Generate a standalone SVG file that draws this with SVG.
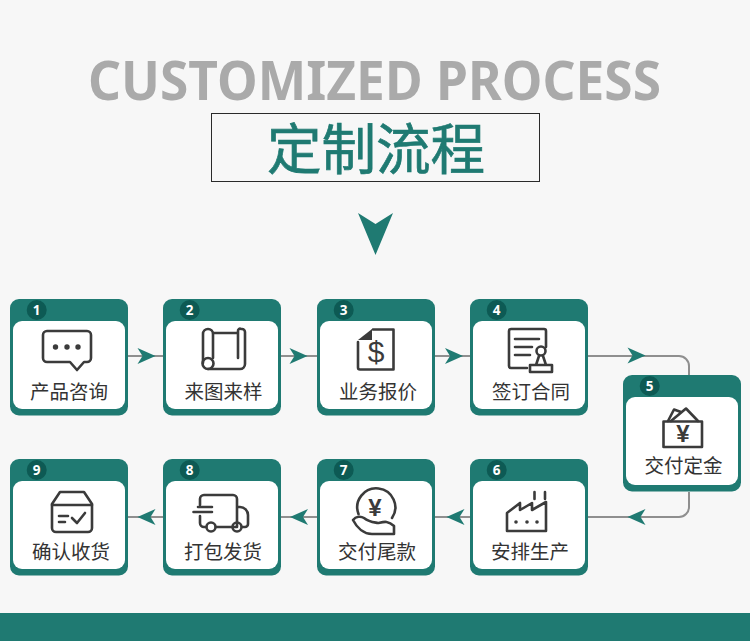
<svg xmlns="http://www.w3.org/2000/svg" width="750" height="641" viewBox="0 0 750 641">
<style>
.cjk{font-family:"Noto Sans CJK SC","Noto Sans",sans-serif}
.label{font-size:19.5px;fill:#333;text-anchor:middle;font-family:"Noto Sans CJK SC","Noto Sans",sans-serif}
.num{font-size:13.500px;font-weight:700;fill:#fff;text-anchor:middle;font-family:"Noto Sans","Liberation Sans",sans-serif}
.ic{fill:none;stroke:#3b3b3b;stroke-width:2.600;stroke-linecap:round;stroke-linejoin:round}
.dot{fill:#3b3b3b}
.sym{fill:#3b3b3b;text-anchor:middle;font-family:"Liberation Sans",sans-serif}
.wire{fill:none;stroke:#8f8f8f;stroke-width:2}
.head{fill:#1f7a72}
</style>
<defs>
<g id="card">
<rect width="118" height="116.500" rx="9" fill="#1f7a72"/>
<rect x="3" y="22" width="112" height="88" rx="9" fill="#fff"/>
<circle cx="26.700" cy="11" r="10" fill="#0d5a54"/>
</g>
<path id="arrow-r" d="M-18-8 L0 0 L-18 8 L-13 0Z"/>
<path id="arrow-l" d="M18-8 L0 0 L18 8 L13 0Z"/>
</defs>
<rect width="750" height="641" fill="#f7f7f7"/>
<rect y="613" width="750" height="28" fill="#1f7a72"/>

<g id="title">
<text x="88" y="100" font-family="Noto Sans,Liberation Sans,sans-serif" font-weight="700" font-size="53" fill="#aaaaaa" textLength="573" lengthAdjust="spacingAndGlyphs">CUSTOMIZED PROCESS</text>
<rect x="211.500" y="113.500" width="328" height="68" fill="none" stroke="#2a2a2a" stroke-width="1"/>
<text x="376" y="169" class="cjk" font-size="54.500" font-weight="400" fill="#1f7a72" stroke="#1f7a72" stroke-width="0.700" text-anchor="middle">定制流程</text>
<path d="M358 213 L375.500 224 L393 213 L375.500 255Z" fill="#1f7a72"/>
</g>

<!-- Connectors between the steps -->
<g id="connectors">
<path class="wire" d="M128 356H163M281 356H317M435 356H470"/>
<path class="wire" d="M588 356H679a10 10 0 0 1 10 10V375"/>
<path class="wire" d="M689 492V507a10 10 0 0 1 -10 10H588"/>
<path class="wire" d="M128 517H163M281 517H317M435 517H470"/>
<use href="#arrow-r" class="head" x="155.500" y="356"/>
<use href="#arrow-r" class="head" x="307.500" y="356"/>
<use href="#arrow-r" class="head" x="463" y="356"/>
<use href="#arrow-r" class="head" x="645.500" y="355.500"/>
<use href="#arrow-l" class="head" x="627.500" y="517"/>
<use href="#arrow-l" class="head" x="446.500" y="517"/>
<use href="#arrow-l" class="head" x="290" y="517"/>
<use href="#arrow-l" class="head" x="137.500" y="517"/>
</g>

<g id="step-1">
<use href="#card" x="10" y="299"/>
<text class="num" x="36.700" y="315">1</text>
<path class="ic" d="M47 331H87a4 4 0 0 1 4 4V358a4 4 0 0 1 -4 4H84L77 370L70 362H47a4 4 0 0 1 -4 -4V335a4 4 0 0 1 4 -4Z"/>
<circle class="dot" cx="55.500" cy="347" r="2.700"/><circle class="dot" cx="67" cy="347" r="2.700"/><circle class="dot" cx="78" cy="347" r="2.700"/>
<text class="label" x="69" y="398.500">产品咨询</text>
</g>

<g id="step-2">
<use href="#card" x="163" y="299"/>
<text class="num" x="189.700" y="315">2</text>
<path class="ic" d="M203 363V334a5 5 0 0 1 5 -5a5 5 0 0 1 5 5V358M213 333H238M238 333V358M238 333V331a2 2 0 0 1 3 -2h1a3 3 0 0 1 3 3V364a5 5 0 0 1 -5 5H208"/>
<circle class="ic" cx="208" cy="363.500" r="5.500"/>
<text class="label" x="223.500" y="398.500">来图来样</text>
</g>

<g id="step-3">
<use href="#card" x="317" y="299"/>
<text class="num" x="343.700" y="315">3</text>
<path class="ic" d="M373 329.500H393.500V369.500H360a2 2 0 0 1 -2 -2V342"/>
<path class="dot" d="M358 340L372 329V340Z"/>
<text class="sym" x="376" y="362" font-size="30">$</text>
<text class="label" x="378" y="398.500">业务报价</text>
</g>

<g id="step-4">
<use href="#card" x="470" y="299"/>
<text class="num" x="496.700" y="315">4</text>
<path class="ic" d="M546 347V331a2 2 0 0 0 -2 -2H511a2 2 0 0 0 -2 2V366a2 2 0 0 0 2 2H527"/>
<path class="ic" d="M515 339H539M515 347H532M515 355H530"/>
<circle class="ic" cx="541" cy="351" r="4.500"/>
<path class="ic" d="M539 356L536 365M543 356L546 365M530 365H552V372H530Z"/>
<text class="label" x="531" y="398.500">签订合同</text>
</g>

<g id="step-5">
<use href="#card" x="623" y="375"/>
<text class="num" x="649.700" y="391">5</text>
<path class="ic" d="M663.500 421.500H702V447H663.500Z"/>
<path class="ic" d="M668 421L674 409.500L681 412M671 421L686 408.500L698 421"/>
<text class="sym" x="683" y="442" font-size="24" font-weight="700">¥</text>
<text class="label" x="683.500" y="473">交付定金</text>
</g>

<g id="step-6">
<use href="#card" x="470" y="459"/>
<text class="num" x="496.700" y="475">6</text>
<path class="ic" d="M507 531V513L520 503V510L532 503V510L546 502V531Z"/>
<path class="ic" d="M534.500 492V499M545 492V499"/>
<circle class="dot" cx="516" cy="522" r="1.800"/><circle class="dot" cx="527" cy="522" r="1.800"/><circle class="dot" cx="537" cy="522" r="1.800"/>
<text class="label" x="530" y="558.500">安排生产</text>
</g>

<g id="step-7">
<use href="#card" x="317" y="459"/>
<text class="num" x="343.700" y="475">7</text>
<path class="ic" d="M358.500 514A19 19 0 1 1 392 518"/>
<path class="ic" d="M353 520C356 516 361 516 364 518C369 522 372 522 378 523C383 522 388 520 394 526V534H372C364 534 357 528 353 520Z"/>
<text class="sym" x="375" y="516" font-size="24" font-weight="700">¥</text>
<text class="label" x="377" y="558.500">交付尾款</text>
</g>

<g id="step-8">
<use href="#card" x="163" y="459"/>
<text class="num" x="189.700" y="475">8</text>
<path class="ic" d="M200 505V499a4 4 0 0 1 4 -4H233a4 4 0 0 1 4 4V527H216M200 516V523a4 4 0 0 0 4 4H206"/>
<path class="ic" d="M238 507H240a8 8 0 0 1 8 8V524a3 3 0 0 1 -3 3H242"/>
<path class="ic" d="M193.500 512H212M198 507H212"/>
<circle class="ic" cx="211" cy="527" r="4.500"/><circle class="ic" cx="237" cy="527" r="4.500"/>
<text class="label" x="223" y="558.500">打包发货</text>
</g>

<g id="step-9">
<use href="#card" x="10" y="459"/>
<text class="num" x="36.700" y="475">9</text>
<path class="ic" d="M60 492H84L92 504V528a4 4 0 0 1 -4 4H56a4 4 0 0 1 -4 -4V504Z"/>
<path class="ic" d="M52 505H92M59 516H68M59 522H65"/>
<path class="ic" d="M72 518L77 523L85 513"/>
<text class="label" x="71" y="558.500">确认收货</text>
</g>
</svg>
